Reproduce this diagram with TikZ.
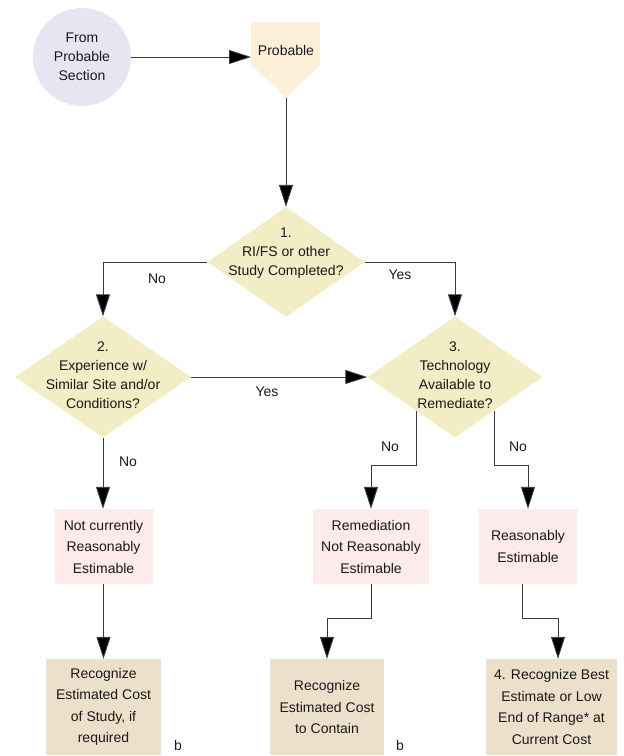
\documentclass[tikz,border=0pt]{standalone}
\usepackage{fontspec}
\setmainfont{Liberation Sans}
\usetikzlibrary{shapes.geometric,arrows.meta,calc}
\definecolor{circfill}{HTML}{E6E6F2}
\definecolor{pentfill}{HTML}{FDF0D9}
\definecolor{diafill}{HTML}{F2EDC4}
\definecolor{pinkfill}{HTML}{FDEBEB}
\definecolor{tanfill}{HTML}{EDE0CA}
\definecolor{linecol}{HTML}{3A3A3A}
\begin{document}
\begin{tikzpicture}[x=1pt,y=-1pt,
  every node/.style={font=\fontsize{14}{19}\selectfont, inner sep=0pt, align=center, text=black!90},
  line/.style={draw=linecol, line width=0.9pt},
  arr/.style={line, -{Triangle[length=22pt,width=14pt,fill=black]}},
  dia/.style={diamond, fill=diafill, minimum width=#1, minimum height=121pt},
  pinkbox/.style={rectangle, fill=pinkfill, minimum height=75pt, font=\fontsize{14}{21.5}\selectfont},
  tanbox/.style={rectangle, fill=tanfill, minimum height=96pt, font=\fontsize{14}{21.5}\selectfont},
  lbl/.style={font=\fontsize{14}{17}\selectfont}]
\useasboundingbox (0,0) rectangle (624,756);

% start circle
\node[circle, fill=circfill, minimum size=98pt] (src) at (82,57) {From\\Probable\\Section};

% Probable pentagon
\coordinate (pnw) at (251,22);
\coordinate (pne) at (320,22);
\coordinate (pse) at (320,65);
\coordinate (psw) at (251,65);
\coordinate (ptip) at (286,98);
\fill[pentfill] (pnw) -- (pne) -- (pse) -- (ptip) -- (psw) -- cycle;
\node (prob) at (286,50) {Probable};

% diamonds
\node[diamond, fill=diafill, minimum width=157pt, minimum height=110pt] (d1) at (286,262) {};
\node (d1t) at (286,253) {1.\\RI/FS or other\\Study Completed?};
\node[dia=176pt] (d2) at (103,377) {};
\node (d2t) at (103,375) {2.\\Experience w/\\Similar Site and/or\\Conditions?};
\node[dia=175pt] (d3) at (455,377) {};
\node (d3t) at (455,375) {3.\\Technology\\Available to\\Remediate?};

% pink boxes
\node[pinkbox, minimum width=98pt] (b1) at (103.5,546.5) {Not currently\\Reasonably\\Estimable};
\node[pinkbox, minimum width=116pt] (b2) at (371,546.5) {Remediation\\Not Reasonably\\Estimable};
\node[pinkbox, minimum width=98pt] (b3) at (528,546.5) {Reasonably\\Estimable};

% tan boxes
\node[tanbox, minimum width=115pt] (t1) at (103.5,707) {Recognize\\Estimated Cost\\of Study, if\\required};
\node[tanbox, minimum width=114pt] (t2) at (327,707) {Recognize\\Estimated Cost\\to Contain};
\node[tanbox, minimum width=131pt] (t3) at (551.5,707) {4. Recognize Best\\Estimate or Low\\End of Range* at\\Current Cost};

% connectors
\draw[arr] (src.east) -- (src.east -| pnw);
\draw[arr] (ptip) -- (d1.north);
\draw[arr] (d1.west) -| (d2.north);
\draw[arr] (d1.east) -| (d3.north);
\draw[arr] (d2.east) -- (d3.west);
\draw[arr] (d2.south) -- (d2.south |- b1.north);

\coordinate (d3l) at ($(d3.center)+(-39,34)$);
\coordinate (d3r) at ($(d3.center)+(39,34)$);
\coordinate (ybend) at (0,465);
\draw[arr] (d3l) -- (d3l |- ybend) -| (b2.north);
\draw[arr] (d3r) -- (d3r |- ybend) -| (b3.north);

\draw[arr] (b1.south) -- (b1.south |- t1.north);
\coordinate (ybend2) at (0,618);
\draw[arr] (b2.south) -- (b2.south |- ybend2) -| (t2.north);
\coordinate (b3out) at ($(b3.south)+(-6,0)$);
\coordinate (t3in) at ($(t3.north)+(6.5,0)$);
\draw[arr] (b3out) -- (b3out |- ybend2) -| (t3in);

% labels
\node[lbl] (lno1) at (157,279) {No};
\node[lbl] (lyes1) at (400,275) {Yes};
\node[lbl] (lyes2) at (267,392) {Yes};
\node[lbl] (lno2) at (128,462) {No};
\node[lbl] (lno3) at (390,447) {No};
\node[lbl] (lno4) at (518,447) {No};
\node[lbl] (bnote1) at (178,745) {b};
\node[lbl] (bnote2) at (400,745) {b};
\end{tikzpicture}
\end{document}
